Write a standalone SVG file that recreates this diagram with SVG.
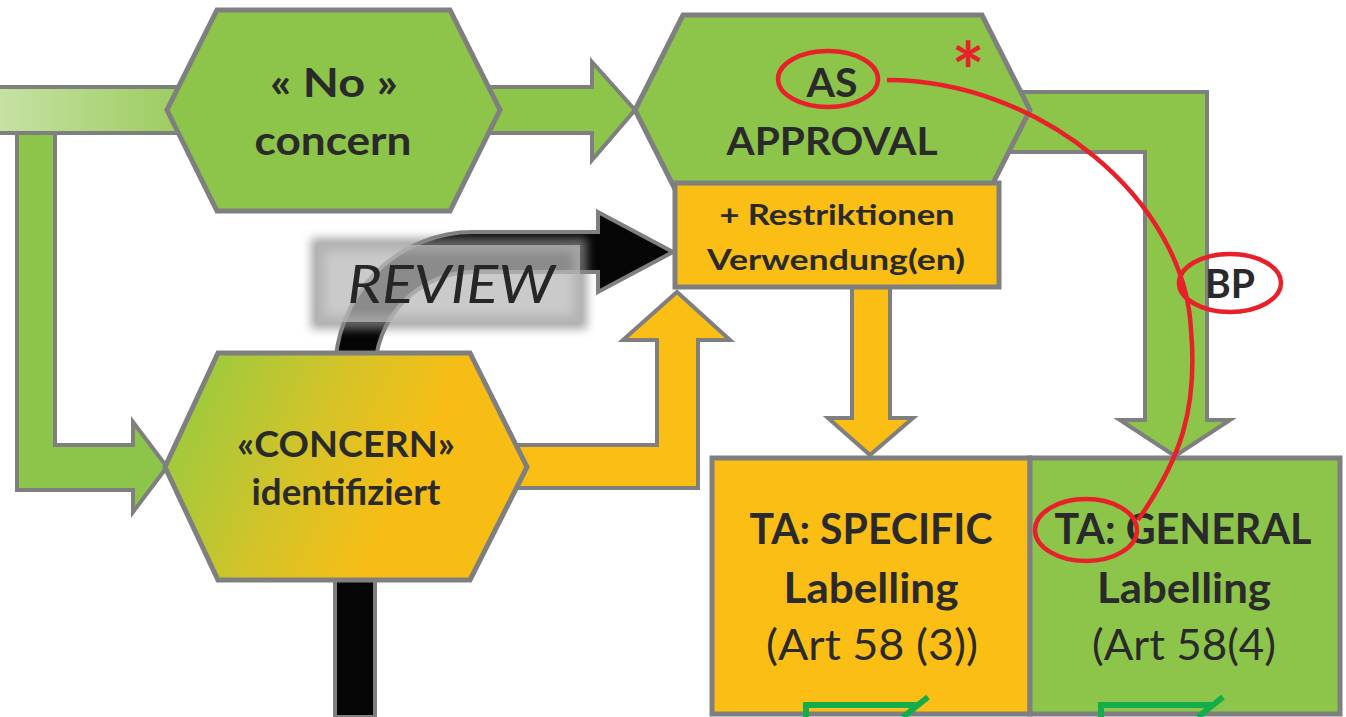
<svg xmlns="http://www.w3.org/2000/svg" width="1346" height="717" viewBox="0 0 1346 717">
  <defs>
    <linearGradient id="barFade" x1="0" y1="0" x2="200" y2="0" gradientUnits="userSpaceOnUse">
      <stop offset="0" stop-color="#c6e1a3"/>
      <stop offset="1" stop-color="#98ca58"/>
    </linearGradient>
    <linearGradient id="concernFill" x1="175" y1="420" x2="430" y2="540" gradientUnits="userSpaceOnUse">
      <stop offset="0" stop-color="#9dca3e"/>
      <stop offset="0.5" stop-color="#d8c326"/>
      <stop offset="0.85" stop-color="#f8bd15"/>
    </linearGradient>
    <filter id="soft" x="-20%" y="-50%" width="140%" height="200%">
      <feGaussianBlur stdDeviation="5"/>
    </filter>
  </defs>
  <style>
    .g{fill:#8dc54b;stroke:#7f7f7f;stroke-width:4}
    .o{fill:#fbbe15;stroke:#7f7f7f;stroke-width:4}
    .hex{stroke:#7f7f7f;stroke-width:5}
    .box{stroke:#7f7f7f;stroke-width:5}
    .t{font-family:Lato,"Open Sans",sans-serif;font-weight:700;fill:#2a2a2a;text-anchor:middle}
    .reg{font-weight:400}
    .red{fill:none;stroke:#e8202a;stroke-width:4.5}
    .chk{fill:none;stroke:#13ad4b;stroke-width:6}
  </style>

  <!-- connectors -->
  <g id="connectors">
    <!-- branch down to the concern step -->
    <path class="g" d="M17,120 L17,490 L133,490 L133,512 L167,467 L133,422 L133,445 L55,445 L55,120"/>
    <!-- incoming bar -->
    <rect x="-5" y="87" width="210" height="46" fill="url(#barFade)" stroke="#7f7f7f" stroke-width="4"/>
    <!-- no concern to approval -->
    <path class="g" d="M470,87 L592,87 L592,62 L635,110 L592,160 L592,133 L470,133 Z"/>
    <!-- approval to general labelling -->
    <path class="g" d="M1000,92 L1207,92 L1207,420 L1230,420 L1175,456 L1120,420 L1145,420 L1145,152 L1000,152 Z"/>
    <!-- review pipe -->
    <path d="M335,717 L335,372 A138,140 0 0 1 473,232 L598,232 L598,212 L673,252 L598,292 L598,272 L473,272 A98,100 0 0 0 375,372 L375,717 Z" fill="#050505" stroke="#7f7f7f" stroke-width="4"/>
    <!-- concern to restrictions -->
    <path class="o" d="M500,445 L657,445 L657,340 L623,340 L677,292 L730,340 L698,340 L698,488 L500,488 Z"/>
    <!-- restrictions to specific labelling -->
    <path class="o" d="M852,285 L890,285 L890,418 L913,418 L870,455 L828,418 L852,418 Z"/>
  </g>

  <g id="no-concern">
    <polygon class="hex" fill="#8dc54b" points="217,10 450,10 500,110 450,211 217,211 167,110"/>
    <text class="t" x="334" y="97" font-size="40" textLength="128" lengthAdjust="spacingAndGlyphs">« No »</text>
    <text class="t" x="333" y="155" font-size="40" textLength="157" lengthAdjust="spacingAndGlyphs">concern</text>
  </g>

  <g id="as-approval">
    <polygon class="hex" fill="#8dc54b" points="683,15 982,15 1030,110 982,205 683,205 635,110"/>
    <text class="t" x="832" y="97" font-size="40" textLength="51" lengthAdjust="spacingAndGlyphs">AS</text>
    <text class="t" x="832" y="155" font-size="39" textLength="211" lengthAdjust="spacingAndGlyphs">APPROVAL</text>
  </g>

  <g id="concern">
    <polygon class="hex" fill="url(#concernFill)" points="218,353 470,353 527,467 470,580 218,580 165,467"/>
    <text class="t" x="346" y="457" font-size="37" textLength="218" lengthAdjust="spacingAndGlyphs">«CONCERN»</text>
    <text class="t" x="346" y="505" font-size="37" textLength="189" lengthAdjust="spacingAndGlyphs">identifiziert</text>
  </g>

  <g id="restrictions">
    <rect class="box" x="675" y="183" width="324" height="104" fill="#fbbe15"/>
    <text class="t" x="837" y="225" font-size="29" textLength="235" lengthAdjust="spacingAndGlyphs">+ Restriktionen</text>
    <text class="t" x="836" y="270" font-size="29" textLength="258" lengthAdjust="spacingAndGlyphs">Verwendung(en)</text>
  </g>

  <g id="specific-labelling">
    <rect class="box" x="712" y="458" width="318" height="256" fill="#fbbe15"/>
    <text class="t" x="871" y="544" font-size="42" textLength="243" lengthAdjust="spacingAndGlyphs">TA: SPECIFIC</text>
    <text class="t" x="871" y="603" font-size="42" textLength="175" lengthAdjust="spacingAndGlyphs">Labelling</text>
    <text class="t reg" x="872" y="660" font-size="42" textLength="212" lengthAdjust="spacingAndGlyphs">(Art 58 (3))</text>
    <path class="chk" d="M806,717 L806,705 L918,705 M928,697 L903,717"/>
  </g>

  <g id="general-labelling">
    <rect class="box" x="1030" y="458" width="310" height="256" fill="#8dc54b"/>
    <text class="t" x="1183" y="544" font-size="42" textLength="257" lengthAdjust="spacingAndGlyphs">TA: GENERAL</text>
    <text class="t" x="1184" y="603" font-size="42" textLength="174" lengthAdjust="spacingAndGlyphs">Labelling</text>
    <text class="t reg" x="1184" y="660" font-size="42" textLength="184" lengthAdjust="spacingAndGlyphs">(Art 58(4)</text>
    <path class="chk" d="M1101,717 L1101,705 L1212,705 M1223,697 L1198,717"/>
  </g>

  <g id="review-label">
    <rect x="318" y="245" width="262" height="77" fill="none" stroke="#8a8a8a" stroke-width="14" opacity="0.75" filter="url(#soft)"/>
    <rect x="318" y="245" width="262" height="77" fill="#b8b8b8" opacity="0.75"/>
    <text x="451" y="303" font-family="Lato,'Open Sans',sans-serif" font-style="italic" font-size="53" fill="#262626" text-anchor="middle" textLength="207" lengthAdjust="spacingAndGlyphs">REVIEW</text>
  </g>

  <g id="annotation">
    <ellipse class="red" cx="828" cy="79" rx="50" ry="28"/>
    <path class="red" d="M887,80 C1040,80 1185,200 1191,330 C1198,410 1180,460 1138,520"/>
    <ellipse class="red" cx="1230" cy="283" rx="51" ry="29"/>
    <text class="t" x="1230" y="298" font-size="40" textLength="50" lengthAdjust="spacingAndGlyphs">BP</text>
    <ellipse class="red" cx="1086" cy="530" rx="51" ry="31"/>
    <text x="968" y="100" font-family="Lato,sans-serif" font-weight="700" font-size="78" fill="#e8202a" text-anchor="middle">*</text>
  </g>
</svg>
